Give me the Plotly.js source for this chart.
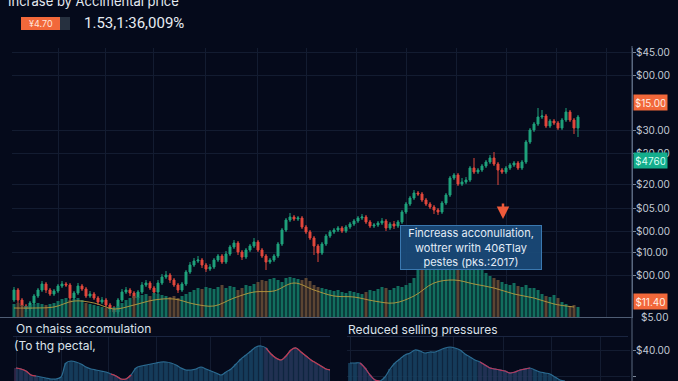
<!DOCTYPE html>
<html><head><meta charset="utf-8">
<script src="https://cdn.plot.ly/plotly-3.0.1.min.js"></script>
<style>html,body{margin:0;padding:0;background:#050a1b;overflow:hidden}#chart{width:678px;height:381px}</style>
</head><body><div id="chart"></div>
<script>
// ---- main candles (price units) ----
const candleOpen = [
18,28,18,12,9,15,22,28,34,28, 24,27,32,34,33,20,25,32,29,22, 24,20,16,18,13,9,6,18,26,28,
25,20,26,33,35,30,26,35,41,43, 38,33,28,34,46,53,57,58,53,49, 51,58,62,56,64,71,75,66,61,68,
72,76,68,62,56,58,62,74,88,98, 101,99,100,91,86,80,72,65,74,82, 86,88,90,87,91,94,97,100,101,96,
92,93,95,97,90,94,92,96,106,114, 120,125,124,118,114,111,108,106,115,123, 140,143,134,136,138,150,146,148,152,156,
160,154,148,146,150,153,155,150,156,176, 188,194,201,202,192,197,195,190,198,206, 198,190];
const candleClose = [
28,18,12,9,15,22,28,34,28,24, 27,32,34,33,20,25,32,29,22,24, 20,16,18,13,9,6,18,26,28,25,
20,26,33,35,30,26,35,41,43,38, 33,28,34,46,53,57,58,53,49,51, 58,62,56,64,71,75,66,61,68,72,
76,68,62,56,58,62,74,88,98,101, 99,100,91,86,80,72,65,74,82,86, 88,90,87,91,94,97,100,101,96,92,
93,95,97,90,94,92,96,106,114,120, 125,124,118,114,111,108,106,115,123,140, 143,134,136,138,150,146,148,152,156,160,
154,148,146,150,153,155,150,156,176,188, 194,201,202,192,197,195,190,198,206,198, 190,201];
const candleHigh = [
31,30,20,14,17,24,30,37,36,30, 29,34,37,36,35,27,35,34,31,27, 26,22,21,20,15,12,20,29,31,30,
27,28,36,38,37,32,38,44,47,45, 40,35,36,48,56,60,62,60,55,54, 60,64,64,67,73,78,77,68,70,74,
80,78,70,64,60,64,76,90,100,105, 103,102,102,93,88,82,74,76,84,88, 90,92,92,93,96,99,102,104,103,98,
95,97,100,99,96,97,98,108,116,122, 128,127,126,120,116,113,110,117,125,142, 145,145,140,141,152,160,150,154,158,163,
166,156,150,152,155,157,157,158,178,190, 196,210,208,204,199,199,197,200,210,208, 200,203];
const candleLow = [
16,15,10,6,7,13,20,26,25,22, 22,25,30,31,17,18,23,27,20,20, 18,13,14,11,6,4,4,16,24,22,
18,18,24,31,28,23,24,33,39,35, 31,25,26,32,44,51,55,50,46,47, 49,56,54,54,62,69,63,58,59,66,
70,66,60,48,54,56,60,72,86,96, 97,97,89,84,78,63,56,63,72,80, 84,86,85,85,89,92,95,98,94,90,
90,91,93,87,88,89,90,94,104,112, 118,122,116,112,109,104,103,104,113,121, 138,132,132,134,136,144,144,146,150,154,
152,133,144,144,148,151,148,148,154,174, 186,192,199,190,190,193,188,188,196,196, 184,181];
const volume = [
14,15,13,12,13,14,15,14,13,14, 15,17,19,20,18,19,20,18,15,14, 13,12,11,10,10,11,12,15,18,20,
22,21,23,24,22,25,24,23,22,21, 22,20,22,24,26,28,30,29,31,30, 29,31,33,30,32,31,28,30,33,32,
34,36,38,37,39,40,38,36,40,41, 40,39,38,40,37,33,31,30,29,28, 27,28,26,25,27,26,25,24,26,28,
27,29,31,30,28,30,32,31,33,35, 40,48,55,58,56,57,60,55,58,57, 56,58,55,57,54,52,50,48,45,42,
40,38,36,34,33,35,32,31,33,30, 30,28,24,22,21,23,20,16,14,12, 13,11];
const volumeMAIndex = [0,5,10,15,20,25,30,35,40,45,50,55,60,65,70,75,80,85,90,95,100,105,110,115,120,125,130,135,140];
const volumeMA = [10,10,11,17,15,9,13,18,19,14,12,20,26,27,35,28,22,21,17,15,22,35,38,34,30,24,20,14,11];

// ---- lower panels ----
const accumValues = [
13,12,10,6,5,4,3,2,2,4, 18,20,19,17,14,12,11,10,9,7, 5,2,2,6,13,15,16,17,18,19,
19,18,16,13,11,11,12,14,12,10, 8,6,9,12,17,22,26,30,34,35, 33,27,23,21,25,31,33,29,25,21, 18,15,12,11];
const accumRedRanges = [[0,4],[19,23],[50,63]];
const sellingValues = [
18,18,18,13,6,1,0,4,12,18, 22,26,28,31,30,28,29,29,31,33, 34,33,31,27,24,21,19,16,13,12,
11,10,8,9,11,12,13,11,9,8, 7,4,1,0];
const sellingRedRanges = [[2,6],[26,36]];

// ---- tick labels ----
const priceTickVals = [266,243,188,165,134,110,87,66,43];
const priceTickText = ['$45.00','$00.00','$30.00','$20.00','$20.00','$05.00','$00.00','$10.00','$00.00'];
const lowerTickVals = [31,5];
const lowerTickText = ['$40.00','$00.00'];
const badgeVals = [216,157.5,17];
const badgeText = ['$15.00','$4760','$11.40'];

const W=678,H=381;
const px = v=>v/W, py = v=>1-v/H;
const idx = candleOpen.map((_,i)=>i);
const GREEN='#1fa27c', RED='#e2483d';
const volColors = candleOpen.map((o,i)=> (o-candleClose[i])>=5 ? '#6a5038' : '#15806a');
const FONT="Inter, 'Noto Sans', sans-serif";

function subset(vals, ranges){
  return vals.map((v,i)=> ranges.some(r=>i>=r[0]&&i<=r[1]) ? v : null);
}
const accIdx = accumValues.map((_,i)=>i);
const selIdx = sellingValues.map((_,i)=>i);
const accColors = accIdx.map(i=> accumRedRanges.some(r=>i>=r[0]&&i<=r[1]) ? '#3a2c50' : '#1a4766');
const selColors = selIdx.map(i=> sellingRedRanges.some(r=>i>=r[0]&&i<=r[1]) ? '#3b2b55' : '#1a4766');

const traces = [
  {type:'bar', x:idx, y:volume, xaxis:'x', yaxis:'y2', marker:{color:volColors, line:{width:0}}, opacity:0.85, hoverinfo:'skip'},
  {type:'scatter', mode:'lines', x:volumeMAIndex, y:volumeMA, xaxis:'x', yaxis:'y2', line:{color:'#b89a3e', width:1, shape:'spline'}, opacity:0.9, hoverinfo:'skip'},
  {type:'candlestick', x:idx, open:candleOpen, high:candleHigh, low:candleLow, close:candleClose, xaxis:'x', yaxis:'y',
   increasing:{line:{color:GREEN,width:1}, fillcolor:GREEN}, decreasing:{line:{color:RED,width:1}, fillcolor:RED}, whiskerwidth:0, hoverinfo:'skip'},
  // lower-left
  {type:'scatter', mode:'lines', x:accIdx, y:accumValues, xaxis:'x2', yaxis:'y3', fill:'tozeroy', fillcolor:'rgba(22,60,92,0.55)', line:{color:'#2b6a90', width:1.2, shape:'spline'}, hoverinfo:'skip'},
  {type:'bar', x:accIdx, y:accumValues, xaxis:'x2', yaxis:'y3', marker:{color:accColors}, opacity:0.8, hoverinfo:'skip'},
  {type:'scatter', mode:'lines', x:accIdx, y:subset(accumValues,accumRedRanges), xaxis:'x2', yaxis:'y3', line:{color:'#c8354c', width:1.2, shape:'spline'}, connectgaps:false, hoverinfo:'skip'},
  // lower-right
  {type:'scatter', mode:'lines', x:selIdx, y:sellingValues, xaxis:'x3', yaxis:'y4', fill:'tozeroy', fillcolor:'rgba(22,60,92,0.55)', line:{color:'#2b6a90', width:1.2, shape:'spline'}, hoverinfo:'skip'},
  {type:'bar', x:selIdx, y:sellingValues, xaxis:'x3', yaxis:'y4', marker:{color:selColors}, opacity:0.8, hoverinfo:'skip'},
  {type:'scatter', mode:'lines', x:selIdx, y:subset(sellingValues,sellingRedRanges), xaxis:'x3', yaxis:'y4', line:{color:'#b8355a', width:1.2, shape:'spline'}, connectgaps:false, hoverinfo:'skip'}
];

const gridC='#131c31';
const layout = {
  width:W, height:H, margin:{l:0,r:0,t:0,b:0}, showlegend:false,
  paper_bgcolor:'#050a1b', plot_bgcolor:'#050a1b',
  font:{family:FONT, color:'#c6ced9'},
  bargap:0.25,
  xaxis:{domain:[px(12),px(632)], range:[-0.5,154.5], anchor:'y', showticklabels:false, ticks:'',
    tickmode:'array', tickvals:[-0.25,11,22.75,34.75,47.75,60.75,73,85.5,98,110.5,123,135.5,148],
    showgrid:true, gridcolor:gridC, zeroline:false, showline:false, rangeslider:{visible:false}, fixedrange:true},
  yaxis:{domain:[py(318),py(48)], range:[0,270], side:'right', anchor:'x', tickmode:'array', tickvals:priceTickVals, ticktext:priceTickText,
    ticks:'outside', ticklen:3, tickcolor:'#7b8799', showline:true, linecolor:'#5a6880', gridcolor:gridC, zeroline:false,
    ticklabelstandoff:-2, tickfont:{size:10, color:'#c3cbd6', family:FONT}, fixedrange:true},
  yaxis2:{domain:[py(318),py(48)], range:[0,270], overlaying:'y', visible:false, fixedrange:true},
  xaxis2:{domain:[px(13),px(330)], range:[-0.6,62.8], anchor:'y3', showticklabels:false, ticks:'', tickmode:'array',
    tickvals:[0,9,18.4,28,38.8,48.8], showgrid:true, gridcolor:gridC, zeroline:false, fixedrange:true},
  yaxis3:{domain:[0,py(337)], range:[0,44], anchor:'x2', visible:false, fixedrange:true},
  xaxis3:{domain:[px(347),px(630)], range:[-0.6,56], anchor:'y4', showticklabels:false, ticks:'', tickmode:'array',
    tickvals:[0,20.6,30.6,40.2,50], showgrid:true, gridcolor:gridC, zeroline:false, fixedrange:true},
  yaxis4:{domain:[0,py(337)], range:[0,44], anchor:'free', position:px(632), side:'right', tickmode:'array',
    tickvals:lowerTickVals, ticktext:lowerTickText, ticks:'outside', ticklen:3, tickcolor:'#7b8799', showline:false,
    ticklabelstandoff:-2, showgrid:true, gridcolor:gridC, zeroline:false, tickfont:{size:10,color:'#c3cbd6',family:FONT}, fixedrange:true},
  shapes:[
    {type:'line', xref:'paper', yref:'paper', x0:px(632), x1:px(632), y0:0, y1:py(46), line:{color:'#5a6880', width:1}},
    {type:'line', xref:'paper', yref:'paper', x0:0, x1:px(632), y0:py(317.5), y1:py(317.5), line:{color:'#4f5d74', width:1}},
    {type:'line', xref:'paper', yref:'paper', x0:px(13), x1:px(330), y0:py(336.5), y1:py(336.5), line:{color:'#1a2540', width:1}},
    {type:'line', xref:'paper', yref:'paper', x0:px(347), x1:px(628), y0:py(336.5), y1:py(336.5), line:{color:'#1a2540', width:1}},
    {type:'rect', xref:'paper', yref:'paper', x0:px(21), x1:px(60), y0:py(30), y1:py(17), fillcolor:'#f2683a', line:{width:0}},
    {type:'rect', xref:'paper', yref:'paper', x0:px(60), x1:px(70), y0:py(30), y1:py(17), fillcolor:'#26303f', line:{width:0}}
  ],
  annotations:[
    {xref:'paper', yref:'paper', x:px(6), y:py(1), xanchor:'left', yanchor:'middle', text:'Incrase by Accimental price', showarrow:false, font:{size:13,color:'#e3e9f0',family:FONT}},
    {xref:'paper', yref:'paper', x:px(40.5), y:py(23.5), xanchor:'center', yanchor:'middle', text:'¥4.70', showarrow:false, font:{size:9,color:'#ffe6da',family:FONT}},
    {xref:'paper', yref:'paper', x:px(82), y:py(23.5), xanchor:'left', yanchor:'middle', text:'1.53,1:36,009%', showarrow:false, font:{size:15,color:'#e6ecf2',family:"Roboto, 'Noto Sans', sans-serif"}},
    {xref:'paper', yref:'paper', x:px(470.5), y:py(247.5), xanchor:'center', yanchor:'middle',
      text:'Fincreass acconullation,<br>wottrer writh 406Tlay<br>pestes (pks.:2017)', showarrow:false, align:'center',
      width:138, height:41, bgcolor:'rgba(26,74,120,0.93)', bordercolor:'#3a78b0', borderwidth:1, borderpad:1,
      font:{size:11,color:'#e2ecf7',family:FONT}},
    {xref:'paper', yref:'paper', x:px(503), y:py(219), ax:0, ay:-17, text:'', showarrow:true, arrowhead:2, arrowsize:1, arrowwidth:2.5, arrowcolor:'#ee5a3a'},
    {xref:'paper', yref:'paper', x:px(14), y:py(328), xanchor:'left', yanchor:'middle', text:'On chaiss accomulation', showarrow:false, font:{size:12,color:'#dbe2ea',family:FONT}},
    {xref:'paper', yref:'paper', x:px(12), y:py(345), xanchor:'left', yanchor:'middle', text:'(To thg pectal,', showarrow:false, font:{size:12,color:'#dbe2ea',family:FONT}},
    {xref:'paper', yref:'paper', x:px(346), y:py(329), xanchor:'left', yanchor:'middle', text:'Reduced selling pressures', showarrow:false, font:{size:12,color:'#dbe2ea',family:FONT}},
    {xref:'paper', yref:'paper', x:px(639), y:py(317), xanchor:'left', yanchor:'middle', text:'$5.00', showarrow:false, font:{size:10,color:'#c3cbd6',family:FONT}}
  ]
};
badgeVals.forEach((v,i)=>{
  layout.annotations.push({xref:'paper', yref:'y', x:px(633), y:v, xanchor:'left', yanchor:'middle', text:badgeText[i], showarrow:false,
    bgcolor: i===1 ? '#14ad8c' : '#f2683a', borderpad:1.5, width:30, font:{size:10,color: i===1 ? '#d8fff4' : '#fff0e6', family:FONT}});
});
Plotly.newPlot('chart', traces, layout, {staticPlot:true, displayModeBar:false});
</script>
</body></html>
